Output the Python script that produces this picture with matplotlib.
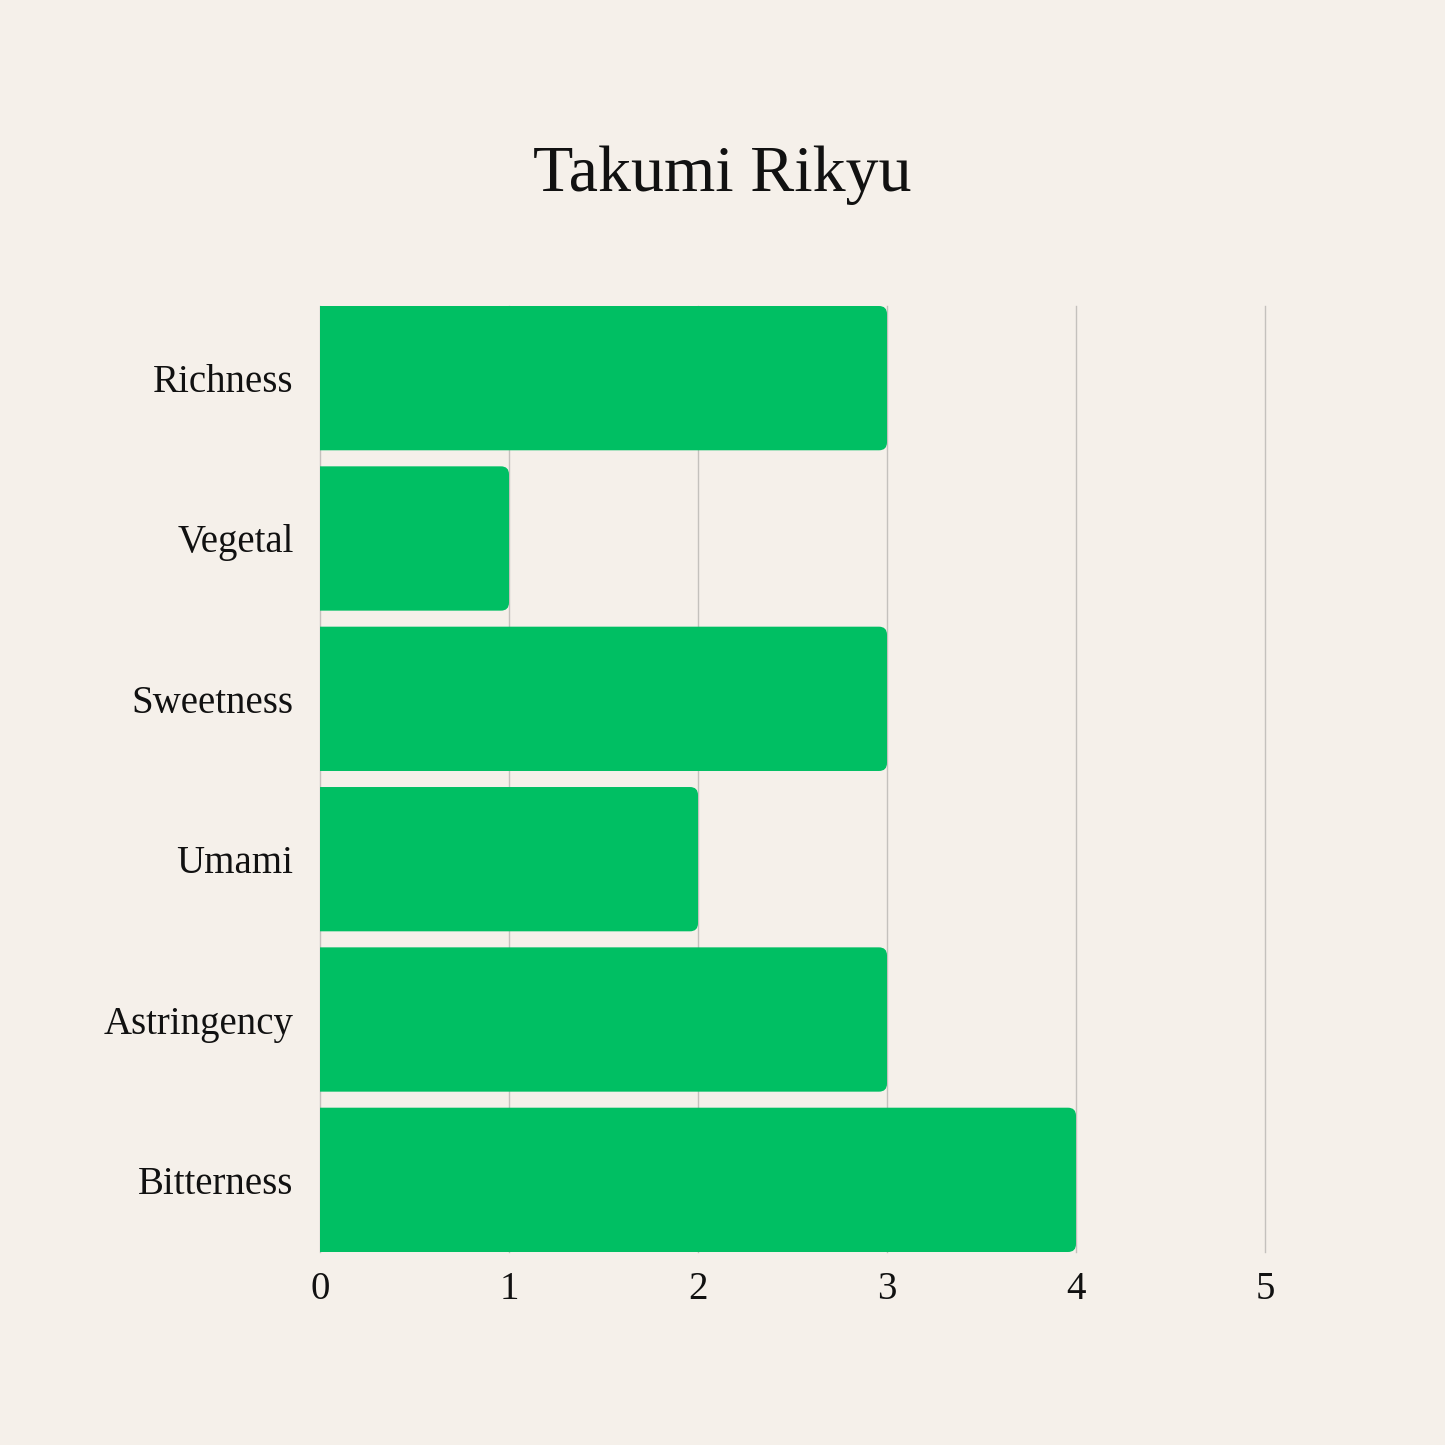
import matplotlib.pyplot as plt
from matplotlib.patches import FancyBboxPatch

# data
categories = ['Richness', 'Vegetal', 'Sweetness', 'Umami', 'Astringency', 'Bitterness']
scores = [3, 1, 3, 2, 3, 4]
title = 'Takumi Rikyu'

bg = '#F5F0EA'
green = '#00BF63'

plt.rcParams['font.family'] = ['Liberation Serif', 'DejaVu Serif']

fig = plt.figure(figsize=(14.45, 14.45), dpi=100, facecolor=bg)
ax = fig.add_axes([320/1445, 193/1445, 945/1445, 946/1445], facecolor=bg)

ypos = list(range(len(categories)))
bars = ax.barh(ypos, scores, height=0.9, color=green, zorder=2)

# swap the bars for ones with rounded right corners
# (left side pushed past x=0 so the axes clip keeps it square)
px_x = 945 / 5.0
px_y = 946 / 5.9
for b in bars:
    x0, y0 = b.get_x(), b.get_y()
    w, h = b.get_width(), b.get_height()
    b.set_visible(False)
    r = FancyBboxPatch((x0 - 0.2, y0), w + 0.2, h,
                       boxstyle='round,pad=0,rounding_size=%f' % (8 / px_x),
                       mutation_aspect=px_x / px_y, facecolor=green,
                       edgecolor='none', zorder=2)
    ax.add_patch(r)

ax.set_xlim(0, 5)
ax.set_ylim(len(categories) - 0.55, -0.45)
ax.set_yticks(ypos)
ax.set_yticklabels(categories)
ax.set_xticks(range(0, 6))

for x in range(0, 6):
    ax.axvline(x, color='#C4C1BD', lw=1, zorder=1, clip_on=False)

for s in ax.spines.values():
    s.set_visible(False)
ax.tick_params(axis='both', length=0, labelsize=28, colors='#111111')
ax.tick_params(axis='y', pad=19)
ax.tick_params(axis='x', pad=14)

fig.text(0.5, 1 - 175/1445, title, ha='center', va='center', fontsize=47.5, color='#111111')

fig.savefig('out.png', dpi=100, facecolor=bg)
